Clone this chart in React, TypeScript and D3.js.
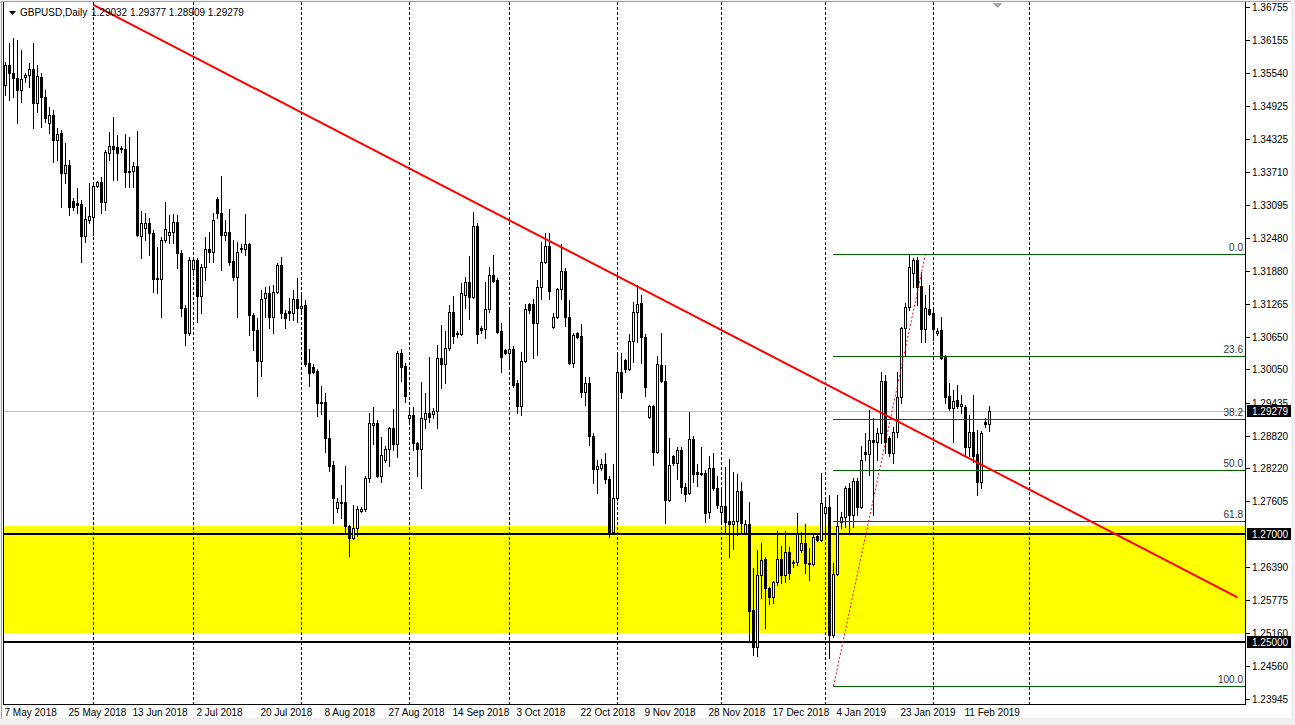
import React from "react";
import * as d3 from "d3";

// ---- Daily GBPUSD candles (first bar = 7 May 2018, one bar per day except Saturdays) ----
const opens = [
  1.3531,1.3569,1.3554,1.3544,1.3522,1.3546,1.3550,1.3561,1.3498,1.3546,
  1.3509,1.3461,1.3476,1.3430,1.3443,1.3369,1.3383,1.3317,1.3313,1.3311,
  1.3252,1.3282,1.3287,1.3344,1.3352,1.3315,1.3406,1.3419,1.3417,1.3415,
  1.3413,1.3372,1.3372,1.3381,1.3252,1.3267,1.3276,1.3257,1.3174,1.3172,
  1.3244,1.3254,1.3259,1.3278,1.3220,1.3119,1.3072,1.3191,1.3207,1.3141,
  1.3194,1.3228,1.3222,1.3320,1.3294,1.3254,1.3259,1.3206,1.3176,1.3228,
  1.3228,1.3237,1.3106,1.3078,1.3020,1.3137,1.3146,1.3102,1.3148,1.3198,
  1.3109,1.3113,1.3109,1.3135,1.3119,1.3124,1.3017,1.3009,1.3002,1.2944,
  1.2944,1.2878,1.2828,1.2748,1.2759,1.2759,1.2715,1.2693,1.2711,1.2743,
  1.2746,1.2804,1.2902,1.2906,1.2807,1.2837,1.2857,1.2896,1.2867,1.3035,
  1.3011,1.2915,1.2920,1.2869,1.2857,1.2913,1.2924,1.2922,1.2928,1.3026,
  1.3015,1.3044,1.3111,1.3072,1.3070,1.3143,1.3167,1.3139,1.3270,1.3082,
  1.3080,1.3117,1.3180,1.3170,1.3076,1.3041,1.3035,1.3043,1.2980,1.2937,
  1.3020,1.3126,1.3126,1.3091,1.3157,1.3204,1.3233,1.3083,1.3102,1.3154,
  1.3187,1.3102,1.3017,1.3072,1.3067,1.2963,1.2980,1.2881,1.2820,1.2822,
  1.2830,1.2802,1.2704,1.2767,1.3000,1.3022,1.3006,1.3057,1.3111,1.3128,
  1.3065,1.2917,1.2937,1.2852,1.3013,1.2983,1.2763,1.2844,1.2831,1.2856,
  1.2787,1.2776,1.2876,1.2815,1.2813,1.2813,1.2741,1.2822,1.2785,1.2741,
  1.2752,1.2724,1.2719,1.2724,1.2780,1.2702,1.2719,1.2559,1.2491,1.2624,
  1.2654,1.2600,1.2583,1.2611,1.2654,1.2624,1.2667,1.2646,1.2648,1.2670,
  1.2683,1.2646,1.2644,1.2696,1.2689,1.2739,1.2750,1.2513,1.2626,1.2722,
  1.2731,1.2785,1.2735,1.2798,1.2750,1.2852,1.2848,1.2874,1.2870,1.2887,
  1.2983,1.2878,1.2850,1.2889,1.2954,1.3082,1.3120,1.3183,1.3207,1.3159,
  1.3080,1.3117,1.3109,1.3072,1.3078,1.3028,1.2956,1.2933,1.2948,1.2937,
  1.2935,1.2861,1.2889,1.2848,1.2796,1.2907,1.29032,
];
const highs = [
  1.3574,1.3609,1.3619,1.3615,1.3596,1.3554,1.3572,1.3609,1.3569,1.3554,
  1.3522,1.3491,1.3485,1.3452,1.3448,1.3424,1.3393,1.3322,1.3341,1.3319,
  1.3306,1.3350,1.3346,1.3354,1.3361,1.3411,1.3444,1.3472,1.3439,1.3419,
  1.3441,1.3435,1.3389,1.3446,1.3298,1.3294,1.3285,1.3263,1.3231,1.3250,
  1.3315,1.3291,1.3293,1.3291,1.3226,1.3124,1.3213,1.3213,1.3211,1.3200,
  1.3250,1.3259,1.3294,1.3324,1.3363,1.3282,1.3302,1.3244,1.3241,1.3237,
  1.3293,1.3239,1.3109,1.3100,1.3152,1.3157,1.3159,1.3161,1.3202,1.3213,
  1.3115,1.3137,1.3152,1.3174,1.3146,1.3133,1.3043,1.3015,1.3006,1.2974,
  1.2961,1.2911,1.2835,1.2767,1.2791,1.2826,1.2717,1.2754,1.2752,1.2750,
  1.2807,1.2924,1.2935,1.2911,1.2880,1.2863,1.2898,1.2931,1.3039,1.3043,
  1.3017,1.2935,1.2935,1.2870,1.2982,1.2961,1.3028,1.2933,1.3050,1.3087,
  1.3076,1.3124,1.3141,1.3076,1.3165,1.3176,1.3215,1.3296,1.3276,1.3085,
  1.3167,1.3194,1.3217,1.3174,1.3091,1.3043,1.3115,1.3048,1.2985,1.3037,
  1.3126,1.3128,1.3135,1.3170,1.3241,1.3257,1.3257,1.3109,1.3156,1.3237,
  1.3193,1.3133,1.3072,1.3074,1.3089,1.2991,1.2991,1.2887,1.2837,1.2839,
  1.2850,1.2807,1.2830,1.3035,1.3035,1.3024,1.3070,1.3130,1.3161,1.3143,
  1.3070,1.2939,1.2939,1.3030,1.3072,1.3013,1.2878,1.2846,1.2861,1.2861,
  1.2794,1.2926,1.2881,1.2830,1.2861,1.2819,1.2844,1.2850,1.2807,1.2785,
  1.2824,1.2839,1.2815,1.2811,1.2796,1.2726,1.2759,1.2637,1.2670,1.2683,
  1.2657,1.2602,1.2613,1.2706,1.2678,1.2706,1.2676,1.2652,1.2739,1.2704,
  1.2719,1.2674,1.2698,1.2700,1.2813,1.2763,1.2772,1.2646,1.2772,1.2741,
  1.2789,1.2794,1.2804,1.2804,1.2863,1.2887,1.2930,1.2915,1.2896,1.3000,
  1.2994,1.2881,1.2898,1.3000,1.3083,1.3128,1.3217,1.3211,1.3213,1.3185,
  1.3143,1.3161,1.3119,1.3082,1.3102,1.3031,1.2980,1.2967,1.2976,1.2957,
  1.2939,1.2920,1.2957,1.2893,1.2891,1.2915,1.29377,
];
const lows = [
  1.3513,1.3504,1.3509,1.3461,1.3500,1.3537,1.3528,1.3452,1.3481,1.3454,
  1.3463,1.3443,1.3389,1.3393,1.3306,1.3350,1.3291,1.3300,1.3294,1.3204,
  1.3241,1.3276,1.3254,1.3343,1.3294,1.3300,1.3393,1.3356,1.3356,1.3407,
  1.3343,1.3343,1.3343,1.3252,1.3211,1.3244,1.3217,1.3148,1.3146,1.3102,
  1.3241,1.3239,1.3239,1.3193,1.3104,1.3050,1.3069,1.3180,1.3093,1.3109,
  1.3170,1.3204,1.3204,1.3285,1.3189,1.3244,1.3198,1.3170,1.3102,1.3222,
  1.3217,1.3069,1.3041,1.2956,1.2993,1.3102,1.3082,1.3072,1.3146,1.3100,
  1.3082,1.3096,1.3096,1.3093,1.3109,1.3011,1.2974,1.2998,1.2919,1.2922,
  1.2852,1.2817,1.2720,1.2741,1.2730,1.2702,1.2659,1.2691,1.2696,1.2741,
  1.2743,1.2796,1.2867,1.2806,1.2796,1.2833,1.2826,1.2856,1.2843,1.2983,
  1.2944,1.2909,1.2856,1.2807,1.2785,1.2896,1.2907,1.2915,1.2896,1.2970,
  1.2980,1.3041,1.3054,1.3065,1.3069,1.3119,1.3098,1.3137,1.3054,1.3072,
  1.3063,1.3111,1.3167,1.3072,1.3000,1.3033,1.3009,1.2972,1.2924,1.2920,
  1.3019,1.3109,1.3026,1.3031,1.3135,1.3202,1.3135,1.3082,1.3100,1.3135,
  1.3085,1.3015,1.3009,1.3063,1.2954,1.2939,1.2865,1.2794,1.2776,1.2819,
  1.2794,1.2694,1.2702,1.2763,1.2952,1.3000,1.3004,1.3019,1.3056,1.3017,
  1.2956,1.2915,1.2828,1.2850,1.2982,1.2720,1.2761,1.2828,1.2802,1.2776,
  1.2761,1.2774,1.2796,1.2789,1.2809,1.2722,1.2730,1.2782,1.2748,1.2720,
  1.2704,1.2657,1.2672,1.2698,1.2702,1.2700,1.2504,1.2476,1.2474,1.2582,
  1.2526,1.2570,1.2572,1.2606,1.2609,1.2611,1.2617,1.2639,1.2643,1.2667,
  1.2628,1.2615,1.2643,1.2687,1.2687,1.2694,1.2470,1.2509,1.2624,1.2711,
  1.2713,1.2704,1.2713,1.2735,1.2748,1.2837,1.2809,1.2735,1.2837,1.2869,
  1.2850,1.2844,1.2831,1.2880,1.2943,1.3031,1.3115,1.3157,1.3124,1.3056,
  1.3056,1.3106,1.3059,1.3069,1.3024,1.2943,1.2930,1.2870,1.2933,1.2924,
  1.2844,1.2844,1.2833,1.2772,1.2785,1.2898,1.28909,
];
const closes = [
  1.3569,1.3554,1.3544,1.3522,1.3543,1.3550,1.3561,1.3498,1.3548,1.3509,
  1.3470,1.3476,1.3430,1.3441,1.3369,1.3383,1.3306,1.3306,1.3309,1.3252,
  1.3283,1.3289,1.3344,1.3352,1.3315,1.3407,1.3419,1.3413,1.3406,1.3413,
  1.3370,1.3370,1.3381,1.3254,1.3276,1.3276,1.3257,1.3172,1.3172,1.3244,
  1.3265,1.3259,1.3278,1.3220,1.3119,1.3072,1.3207,1.3207,1.3141,1.3194,
  1.3228,1.3222,1.3282,1.3294,1.3254,1.3259,1.3204,1.3176,1.3222,1.3230,
  1.3237,1.3106,1.3078,1.3020,1.3135,1.3146,1.3102,1.3148,1.3198,1.3109,
  1.3100,1.3109,1.3135,1.3119,1.3122,1.3015,1.2998,1.3000,1.2943,1.2943,
  1.2878,1.2826,1.2767,1.2759,1.2757,1.2715,1.2693,1.2711,1.2746,1.2746,
  1.2804,1.2906,1.2906,1.2807,1.2846,1.2857,1.2896,1.2867,1.3035,1.3009,
  1.2956,1.2920,1.2869,1.2857,1.2915,1.2924,1.2917,1.2928,1.3026,1.3015,
  1.3044,1.3111,1.3067,1.3070,1.3146,1.3167,1.3139,1.3270,1.3070,1.3078,
  1.3117,1.3180,1.3169,1.3074,1.3028,1.3035,1.3043,1.2976,1.2937,1.3020,
  1.3117,1.3115,1.3091,1.3157,1.3204,1.3233,1.3150,1.3102,1.3154,1.3187,
  1.3102,1.3017,1.3069,1.3065,1.2963,1.2980,1.2881,1.2820,1.2826,1.2830,
  1.2802,1.2704,1.2767,1.3000,1.2963,1.3006,1.3057,1.3111,1.3126,1.3065,
  1.2972,1.2937,1.2852,1.3015,1.2983,1.2763,1.2828,1.2831,1.2856,1.2787,
  1.2774,1.2876,1.2811,1.2811,1.2811,1.2739,1.2822,1.2785,1.2754,1.2752,
  1.2722,1.2719,1.2724,1.2780,1.2720,1.2719,1.2557,1.2491,1.2624,1.2652,
  1.2600,1.2583,1.2611,1.2654,1.2624,1.2667,1.2628,1.2648,1.2700,1.2683,
  1.2646,1.2644,1.2694,1.2689,1.2757,1.2750,1.2513,1.2626,1.2715,1.2731,
  1.2785,1.2735,1.2798,1.2750,1.2837,1.2848,1.2874,1.2870,1.2887,1.2983,
  1.2870,1.2850,1.2889,1.2954,1.3082,1.3120,1.3194,1.3207,1.3157,1.3080,
  1.3119,1.3107,1.3080,1.3076,1.3026,1.2954,1.2933,1.2946,1.2937,1.2941,
  1.2861,1.2889,1.2844,1.2796,1.2887,1.2904,1.29279,
];

// ---- Axis labels ----
const priceTicks = [
  1.36755, 1.36155, 1.3554, 1.34925, 1.34325, 1.3371, 1.33095, 1.3248, 1.3188,
  1.31265, 1.3065, 1.3005, 1.29435, 1.2882, 1.2822, 1.27605, 1.2639, 1.25775,
  1.2516, 1.2456, 1.23945,
];
const dateLabels = [
  "7 May 2018", "25 May 2018", "13 Jun 2018", "2 Jul 2018", "20 Jul 2018",
  "8 Aug 2018", "27 Aug 2018", "14 Sep 2018", "3 Oct 2018", "22 Oct 2018",
  "9 Nov 2018", "28 Nov 2018", "17 Dec 2018", "4 Jan 2019", "23 Jan 2019",
  "11 Feb 2019",
];
const firstBarDate = [2018, 4, 7];
const priceDomain = [1.23945, 1.36755];

// ---- Drawn objects ----
const trendBars = [22, 308];
const trendPrices = [1.368, 1.2583];
const fibLevels = [0, 23.6, 38.2, 50, 61.8, 100];
const fibBars = [207, 230];
const fibPrices = [1.24185, 1.32185]; // 100% , 0%
const levelLines = [1.27, 1.25];
const zonePrices = [1.2715, 1.2517];
const symbolTitle = "GBPUSD,Daily";

const FONT = "'Liberation Sans', Arial, sans-serif";

function buildDates(n: number): Date[] {
  const out: Date[] = [];
  let d = new Date(firstBarDate[0], firstBarDate[1], firstBarDate[2]);
  while (out.length < n) {
    if (d.getDay() !== 6) out.push(new Date(d));
    d = d3.timeDay.offset(d, 1);
  }
  return out;
}

export default function App() {
  const W = 1295;
  const H = 725;
  const plotL = 3.5;
  const plotR = 1245.5;
  const plotB = 704.5;
  const n = closes.length;

  const x = d3.scaleLinear().domain([0, 1]).range([5.5, 9.5]);
  const y = d3.scaleLinear().domain(priceDomain).range([699.1, 7.3]);

  const dates = buildDates(270);
  const fmt = d3.timeFormat("%-d %b %Y");
  const fmtKey = dates.map((d) => fmt(d));

  const monthStarts: number[] = [];
  for (let i = 1; i < dates.length; i++) {
    if (dates[i].getMonth() !== dates[i - 1].getMonth()) monthStarts.push(i);
  }
  const gridXs = monthStarts.map((i) => x(i)).filter((v) => v < plotR);

  const zoneTop = Math.round(y(zonePrices[0]));
  const zoneBot = Math.round(y(zonePrices[1]));

  const lastClose = closes[n - 1];
  const bidY = Math.round(y(lastClose)) + 0.5;

  const fmt5 = d3.format(".5f");
  const fibY = (lvl: number) =>
    y(fibPrices[1] - (fibPrices[1] - fibPrices[0]) * (lvl / 100));

  const candles = d3.range(n).map((i) => {
    const o = opens[i], h = highs[i], l = lows[i], c = closes[i];
    const cx = x(i);
    const yO = Math.round(y(o));
    const yC = Math.round(y(c));
    const yH = Math.round(y(h));
    const yL = Math.round(y(l));
    const top = Math.min(yO, yC);
    const bot = Math.max(yO, yC);
    const bull = c > o;
    return (
      <g key={i}>
        <line x1={cx} x2={cx} y1={yH} y2={yL + 1} stroke="#000" strokeWidth={1} />
        {bot - top < 1 ? (
          <line x1={cx - 1.5} x2={cx + 1.5} y1={top + 0.5} y2={top + 0.5} stroke="#000" strokeWidth={1} />
        ) : (
          <rect
            x={cx - 1}
            y={top + 0.5}
            width={2}
            height={bot - top}
            fill={bull ? "#fff" : "#000"}
            stroke="#000"
            strokeWidth={1}
          />
        )}
      </g>
    );
  });

  return (
    <div>
      <style>{"body{margin:0;}"}</style>
      <svg width={W} height={H} style={{ display: "block" }} fontFamily={FONT}>
        <defs>
          <clipPath id="plotClip">
            <rect x={plotL} y={0} width={plotR - plotL} height={plotB} />
          </clipPath>
          <clipPath id="zoneClip">
            <rect x={plotL} y={zoneTop} width={plotR - plotL} height={zoneBot - zoneTop} />
          </clipPath>
        </defs>
        {/* window background */}
        <rect x={0} y={0} width={W} height={H} fill="#f0f0f0" />
        <rect x={2} y={2} width={1289} height={716} fill="#fff" />
        <line x1={1.5} x2={1.5} y1={1} y2={719} stroke="#a0a0a0" />
        <line x1={1} x2={1291} y1={1.5} y2={1.5} stroke="#a0a0a0" />

        {/* support zone */}
        <rect x={plotL} y={zoneTop} width={plotR - plotL} height={zoneBot - zoneTop} fill="#ffff00" />

        {/* vertical grid */}
        {gridXs.map((gx, k) => (
          <line key={"g" + k} x1={gx} x2={gx} y1={2} y2={plotB} stroke="#000" strokeDasharray="3,2" />
        ))}
        <g clipPath="url(#zoneClip)">
          {gridXs.map((gx, k) => (
            <line key={"gb" + k} x1={gx} x2={gx} y1={2} y2={plotB} stroke="#0000ff" strokeDasharray="3,2" />
          ))}
        </g>

        {/* bid line */}
        <line x1={plotL} x2={plotR} y1={bidY} y2={bidY} stroke="#c0c0c0" />

        {/* key levels */}
        {levelLines.map((p, k) => (
          <line key={"lv" + k} x1={plotL} x2={plotR} y1={Math.round(y(p))} y2={Math.round(y(p))} stroke="#000" strokeWidth={2} />
        ))}

        {/* candles */}
        <g clipPath="url(#plotClip)" shapeRendering="crispEdges">{candles}</g>

        {/* fibonacci */}
        <g shapeRendering="crispEdges">
          {fibLevels.map((lvl, k) => {
            const fy = Math.round(fibY(lvl)) + 0.5;
            return (
              <g key={"f" + k}>
                <line x1={x(fibBars[0]) - 0.5} x2={plotR} y1={fy} y2={fy} stroke="#006400" />
              </g>
            );
          })}
        </g>
        {fibLevels.map((lvl, k) => (
          <text key={"ft" + k} x={1243} y={Math.round(fibY(lvl)) - 3} fontSize={10} textAnchor="end" fill="#333">
            {lvl.toFixed(1)}
          </text>
        ))}
        <line
          x1={x(fibBars[0])}
          y1={y(fibPrices[0])}
          x2={x(fibBars[1])}
          y2={y(fibPrices[1])}
          stroke="#ff0000"
          strokeDasharray="2,2"
        />

        {/* trend line */}
        <g clipPath="url(#plotClip)">
          <line
            x1={x(trendBars[0])}
            y1={y(trendPrices[0])}
            x2={x(trendBars[1])}
            y2={y(trendPrices[1])}
            stroke="#ff0000"
            strokeWidth={2}
          />
        </g>

        {/* chart shift marker */}
        <polygon
          points={`${x(n + 1) - 5},3 ${x(n + 1) + 5},3 ${x(n + 1)},8`}
          fill="#a8a8a8"
        />

        {/* frame */}
        <g shapeRendering="crispEdges">
          <line x1={plotL} x2={plotL} y1={2} y2={plotB} stroke="#000" />
          <line x1={plotR} x2={plotR} y1={2} y2={plotB} stroke="#000" />
          <line x1={plotL} x2={plotR} y1={plotB} y2={plotB} stroke="#000" />
        </g>

        {/* price axis */}
        {priceTicks.map((p, k) => {
          const py = Math.round(y(p)) + 0.5;
          return (
            <g key={"pt" + k}>
              <line x1={plotR} x2={plotR + 4} y1={py} y2={py} stroke="#000" shapeRendering="crispEdges" />
              <text x={1252} y={py + 3.5} fontSize={10} fill="#000">
                {fmt5(p)}
              </text>
            </g>
          );
        })}
        {[lastClose, ...levelLines].map((p, k) => {
          const py = Math.round(y(p));
          return (
            <g key={"bx" + k}>
              <rect x={1247} y={py - 6} width={44} height={12} fill="#000" />
              <text x={1252} y={py + 4} fontSize={10} fill="#fff">
                {fmt5(p)}
              </text>
            </g>
          );
        })}

        {/* time axis */}
        {dateLabels.map((lab, k) => {
          const idx = fmtKey.indexOf(lab);
          return (
            <text key={"dl" + k} x={x(idx) - 1} y={716} fontSize={10} fill="#000">
              {lab}
            </text>
          );
        })}

        {/* title */}
        <polygon points="9,11 16,11 12.5,15" fill="#000" />
        <text x={20} y={16} fontSize={10} fill="#000">
          {symbolTitle}
        </text>
        <text x={91} y={16} fontSize={10} fill="#000">
          {[opens[n - 1], highs[n - 1], lows[n - 1], closes[n - 1]].map((v) => fmt5(v)).join(" ")}
        </text>
      </svg>
    </div>
  );
}
